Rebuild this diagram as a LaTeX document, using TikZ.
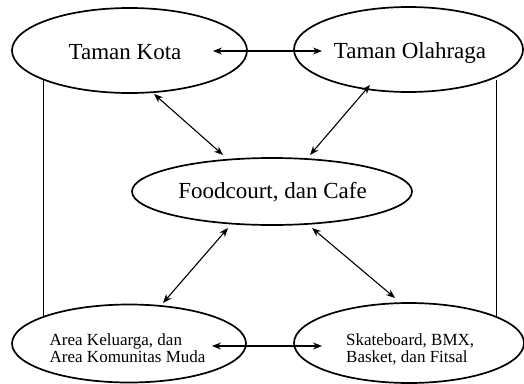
\documentclass[tikz,border=0pt]{standalone}
\usepackage{fontspec}
\setmainfont{Liberation Serif}
\usetikzlibrary{shapes.geometric,arrows.meta,calc}
\begin{document}
\begin{tikzpicture}[x=1pt,y=-1pt,
  oval/.style={draw, ellipse, line width=1.7pt, inner sep=0pt},
  lbl/.style={inner sep=0pt, font=\fontsize{23}{27}\selectfont},
  small/.style={inner sep=0pt, align=left, font=\fontsize{17}{16.5}\selectfont},
  link/.style={line width=1.1pt},
  biarrow/.style={line width=1.1pt, {Stealth[length=9pt,width=7pt]}-{Stealth[length=9pt,width=7pt]}}]
\useasboundingbox (0,0) rectangle (524,383);
% ellipses
\node[oval, minimum width=235pt, minimum height=85pt] (E1) at (129.5,50.5) {};
\node[oval, minimum width=229pt, minimum height=85pt] (E2) at (408.5,49.5) {};
\node[oval, minimum width=280pt, minimum height=67pt] (E3) at (272,191.5) {};
\node[oval, minimum width=234pt, minimum height=78pt] (E4) at (129,343.5) {};
\node[oval, minimum width=230pt, minimum height=80pt] (E5) at (409,343) {};
% texts
\node[lbl, anchor=base] (t1) at (125,59) {Taman Kota};
\node[lbl, anchor=base] (t2) at (410,58.5) {Taman Olahraga};
\node[lbl, anchor=base] (t3) at (272.5,198) {Foodcourt, dan Cafe};
\node[small, anchor=west] (t4) at (49.5,348.4) {Area Keluarga, dan\\Area Komunitas Muda};
\node[small, anchor=west] (t5) at (346,349.6) {Skateboard, BMX,\\Basket, dan Fitsal};
% horizontal arrows
\draw[biarrow] ($(E1)+(83.5,0.5)$) -- ($(E2)+(-86.5,1.5)$);
\draw[biarrow] ($(E4)+(83,2.5)$) -- ($(E5)+(-87,3)$);
% diagonal arrows
\draw[biarrow] ($(E1)+(24.5,43.5)$) -- ($(E3)+(-49,-36.5)$);
\draw[biarrow] ($(E2)+(-38.5,35.5)$) -- ($(E3)+(38,-36.5)$);
\draw[biarrow] ($(E3)+(-44,36.5)$) -- ($(E4)+(34,-40.5)$);
\draw[biarrow] ($(E3)+(40,36.5)$) -- ($(E5)+(-14,-45)$);
% vertical lines
\draw[link] ($(E1)+(-86,29.5)$) -- ($(E4)+(-85.5,-27.5)$);
\draw[link] ($(E2)+(88,30.5)$) -- ($(E5)+(87.5,-27)$);
\end{tikzpicture}
\end{document}
